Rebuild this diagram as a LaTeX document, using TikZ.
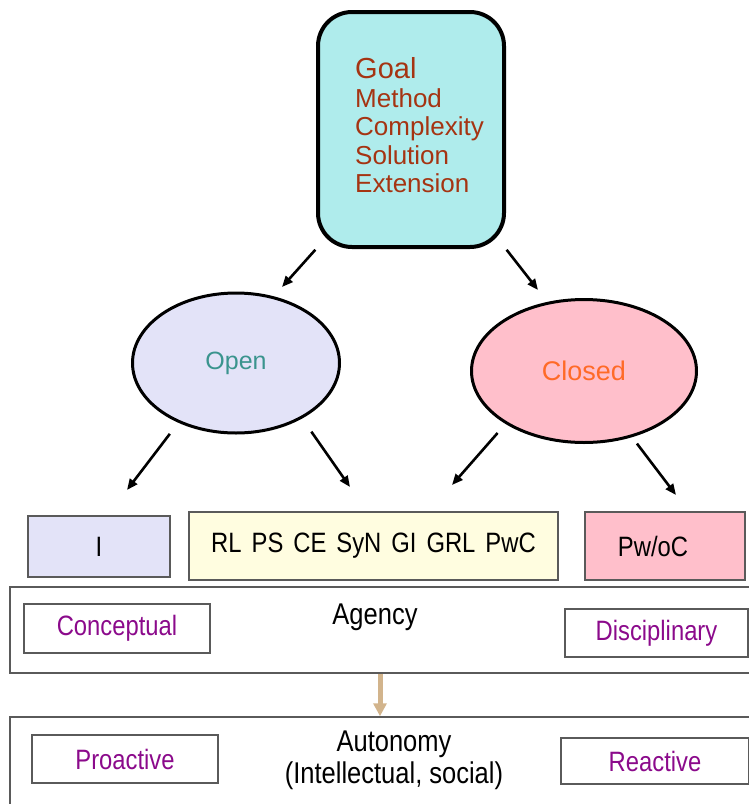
\documentclass[tikz,border=0pt]{standalone}
\usepackage{fontspec}
\setmainfont{Liberation Sans}
\newfontfamily\narrowsans[FakeStretch=0.85]{Liberation Sans}
\usetikzlibrary{shapes.geometric,arrows.meta}

\definecolor{goalfill}{RGB}{175,236,236}
\definecolor{goaltext}{RGB}{165,52,18}
\definecolor{openfill}{RGB}{227,227,248}
\definecolor{opentext}{RGB}{58,148,142}
\definecolor{closedfill}{RGB}{255,191,203}
\definecolor{closedtext}{RGB}{255,106,40}
\definecolor{kindfill}{RGB}{255,253,224}
\definecolor{boxgray}{RGB}{90,90,90}
\definecolor{purpletext}{RGB}{139,10,139}
\definecolor{tanarrow}{RGB}{210,180,140}

\begin{document}
\begin{tikzpicture}[x=1pt,y=-1pt,
  box/.style={draw=boxgray, line width=1.5pt, inner sep=0pt},
  boxtext/.style={font=\narrowsans\fontsize{28}{32}\selectfont},
  sidebox/.style={box, boxtext, text=purpletext},
  arr/.style={line width=2.6pt, -{Triangle[length=11pt,width=9pt]}},
  blob/.style={ellipse, draw, line width=3pt, inner sep=0pt}]
\useasboundingbox (0,0) rectangle (749,804);

% Top box
\node[draw, line width=4pt, rounded corners=34pt, fill=goalfill, text=goaltext,
      minimum width=186pt, minimum height=235pt, inner sep=0pt] (goal) at (411,129.5)
  {\hspace*{17pt}\fontsize{26}{28.5}\selectfont\begin{tabular}{@{}l@{}}
   {\fontsize{29}{28.5}\selectfont Goal}\\Method\\Complexity\\Solution\\Extension
   \end{tabular}};

% Open and closed
\node[blob, fill=openfill, text=opentext, minimum width=207pt, minimum height=140pt,
      font=\fontsize{25}{30}\selectfont] (open) at (236,363) {Open};
\node[blob, fill=closedfill, text=closedtext, minimum width=225pt, minimum height=143pt,
      font=\fontsize{27}{32}\selectfont] (closed) at (584,371) {Closed};

\coordinate (goaltipl) at (282,287);
\coordinate (goaltipr) at (538,290);

% Kinds
\node[box, boxtext, fill=openfill, minimum width=142pt, minimum height=61pt] (ikind) at (99,546.5) {I};
\node[box, boxtext, fill=kindfill, minimum width=369pt, minimum height=68pt] (mixkind) at (373.5,546)
  {RL\hspace{10pt}PS\hspace{10pt}CE\hspace{10pt}SyN\hspace{10pt}GI\hspace{10pt}GRL\hspace{10pt}PwC};
\node[box, boxtext, fill=closedfill, minimum width=160pt, minimum height=68pt] (pkind) at (665,546)
  {\raisebox{-5pt}{Pw/oC}\hspace*{24pt}};

\coordinate (ol) at (127,490);
\coordinate (or) at (350,487);
\coordinate (cl) at (452,485);
\coordinate (cr) at (676,495);

% Agency
\node[box, minimum width=740pt, minimum height=86pt] (agencybox) at (380,630) {};
\node[boxtext, font=\narrowsans\fontsize{30}{34}\selectfont] (agency) at (375,617) {Agency};
\node[sidebox, minimum width=186pt, minimum height=49pt] (concept) at (117,628.5) {Conceptual};
\node[sidebox, minimum width=183pt, minimum height=48pt] (discip) at (656.5,633) {Disciplinary};

% Autonomy
\node[box, minimum width=740pt, minimum height=95pt] (autobox) at (380,764.5) {};
\node[align=center, font=\narrowsans\fontsize{30}{32}\selectfont] (autonomy) at (394,760)
  {Autonomy\\(Intellectual, social)};
\node[sidebox, minimum width=186pt, minimum height=48pt] (proact) at (125,759) {Proactive};
\node[sidebox, minimum width=188pt, minimum height=46pt] (react) at (655,761) {Reactive};

% Arrows
\draw[arr, shorten <=1pt] (goal.south west) -- (goaltipl);
\draw[arr, shorten <=1pt] (goal.south east) -- (goaltipr);
\draw[arr, shorten <=14pt] (open.226) -- (ol);
\draw[arr, shorten <=16pt] (open.320) -- (or);
\draw[arr, shorten <=12pt] (closed.214) -- (cl);
\draw[arr, shorten <=8pt] (closed.306) -- (cr);
\draw[tanarrow, line width=5pt, -{Triangle[length=13pt,width=13pt]}] (agencybox.south) -- (autobox.north);
\end{tikzpicture}
\end{document}
